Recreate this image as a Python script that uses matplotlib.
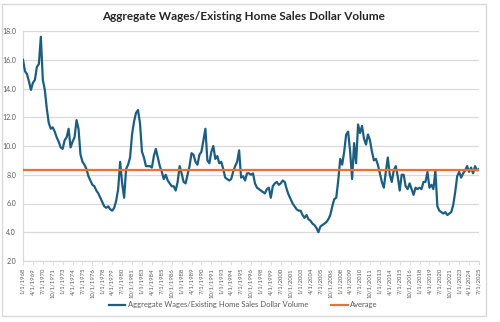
import matplotlib
matplotlib.use("Agg")
import matplotlib.pyplot as plt
from matplotlib.patches import Rectangle
from matplotlib.lines import Line2D

# Quarterly readings (Jan, Apr, Jul, Oct), Jan 1968 .. Jul 2025
ratio_values = [
    16.0, 15.2, 15.0, 14.5,   # 1968
    13.9, 14.4, 14.6, 15.5,   # 1969
    15.7, 17.6, 14.6, 13.9,   # 1970
    12.6, 11.6, 11.2, 11.3,   # 1971
    11.0, 10.6, 10.3, 9.9,    # 1972
    9.8, 10.4, 10.6, 11.2,    # 1973
    9.9, 10.3, 10.6, 11.8,    # 1974
    11.2, 9.4, 8.9, 8.7,      # 1975
    8.4, 7.9, 7.6, 7.3,       # 1976
    7.2, 6.9, 6.7, 6.4,       # 1977
    6.1, 5.8, 5.7, 5.8,       # 1978
    5.6, 5.5, 5.7, 6.2,       # 1979
    7.0, 8.9, 7.4, 6.4,       # 1980
    8.4, 8.7, 9.2, 10.8,      # 1981
    11.7, 12.3, 12.5, 11.6,   # 1982
    9.6, 9.2, 8.6, 8.6,       # 1983
    8.6, 8.5, 9.3, 9.8,       # 1984
    9.2, 8.6, 8.2, 7.7,       # 1985
    8.0, 7.6, 7.4, 7.2,       # 1986
    7.2, 6.9, 7.5, 8.6,       # 1987
    8.1, 7.5, 7.4, 8.0,       # 1988
    8.6, 9.5, 9.4, 8.9,       # 1989
    8.7, 9.4, 9.6, 10.4,      # 1990
    11.2, 9.0, 8.8, 9.6,      # 1991
    10.0, 9.1, 9.3, 8.8,      # 1992
    8.9, 8.4, 7.8, 7.7,       # 1993
    7.6, 7.7, 8.2, 8.6,       # 1994
    8.9, 9.7, 7.8, 7.9,       # 1995
    7.6, 8.1, 8.1, 8.0,       # 1996
    8.1, 7.4, 7.1, 7.0,       # 1997
    6.9, 6.8, 6.7, 7.0,       # 1998
    7.1, 6.4, 7.2, 7.4,       # 1999
    7.5, 7.3, 7.4, 7.6,       # 2000
    7.5, 7.0, 6.6, 6.3,       # 2001
    6.0, 5.8, 5.6, 5.5,       # 2002
    5.5, 5.2, 5.0, 5.2,       # 2003
    4.9, 4.8, 4.6, 4.5,       # 2004
    4.3, 4.0, 4.4, 4.5,       # 2005
    4.6, 4.7, 4.9, 5.2,       # 2006
    5.8, 6.3, 6.4, 7.6,       # 2007
    9.1, 8.7, 9.6, 10.8,      # 2008
    11.0, 9.6, 7.7, 10.2,     # 2009
    8.8, 11.5, 10.9, 11.4,    # 2010
    10.5, 10.1, 10.8, 10.4,   # 2011
    9.6, 9.0, 9.1, 8.7,       # 2012
    8.1, 7.5, 7.1, 8.2,       # 2013
    9.2, 8.0, 7.5, 8.3,       # 2014
    8.6, 7.9, 6.9, 8.0,       # 2015
    8.0, 7.2, 7.0, 7.4,       # 2016
    7.0, 6.6, 7.1, 7.0,       # 2017
    7.1, 7.0, 7.5, 7.5,       # 2018
    8.2, 7.1, 7.3, 7.0,       # 2019
    8.3, 5.8, 5.5, 5.4,       # 2020
    5.3, 5.4, 5.2, 5.3,       # 2021
    5.4, 5.9, 6.8, 7.9,       # 2022
    8.2, 7.8, 8.1, 8.3,       # 2023
    8.6, 8.2, 8.5, 8.1,       # 2024
    8.6, 8.3, 8.4,            # 2025
]
average_value = 8.33

tick_labels = [
    "1/1/1968", "4/1/1969", "7/1/1970", "10/1/1971", "1/1/1973", "4/1/1974",
    "7/1/1975", "10/1/1976", "1/1/1978", "4/1/1979", "7/1/1980", "10/1/1981",
    "1/1/1983", "4/1/1984", "7/1/1985", "10/1/1986", "1/1/1988", "4/1/1989",
    "7/1/1990", "10/1/1991", "1/1/1993", "4/1/1994", "7/1/1995", "10/1/1996",
    "1/1/1998", "4/1/1999", "7/1/2000", "10/1/2001", "1/1/2003", "4/1/2004",
    "7/1/2005", "10/1/2006", "1/1/2008", "4/1/2009", "7/1/2010", "10/1/2011",
    "1/1/2013", "4/1/2014", "7/1/2015", "10/1/2016", "1/1/2018", "4/1/2019",
    "7/1/2020", "10/1/2021", "1/1/2023", "4/1/2024", "7/1/2025",
]
y_ticks = [2, 4, 6, 8, 10, 12, 14, 16, 18]

series_name = "Aggregate Wages/Existing Home Sales Dollar Volume"
avg_name = "Average"
title = "Aggregate Wages/Existing Home Sales Dollar Volume"

LINE_C = "#1b5e83"
AVG_C = "#e97132"
GRID_C = "#d9d9d9"
TXT_C = "#595959"

plt.rcParams["font.family"] = ["Lato", "DejaVu Sans"]

W, H = 500, 322
fig = plt.figure(figsize=(W / 100, H / 100), dpi=100)
fig.patch.set_facecolor("white")

# chart area border
fig.add_artist(Rectangle((2 / W, 1 - 316 / H), 484 / W, 312 / H,
                         transform=fig.transFigure, fill=False,
                         edgecolor=GRID_C, linewidth=1.0))

ax = fig.add_axes([23 / W, 1 - 261 / H, 456 / W, 230 / H])

months = [3 * i for i in range(len(ratio_values))]
n_months = months[-1]
ax.plot(months, ratio_values, color=LINE_C, linewidth=1.6, solid_joinstyle="round", zorder=3)
ax.plot([0, n_months], [average_value, average_value], color=AVG_C, linewidth=1.6, zorder=4)

ax.set_xlim(0, n_months)
ax.set_ylim(2, 18)
ax.set_yticks(y_ticks)
ax.set_yticklabels([f"{v:.1f}" for v in y_ticks])
ax.yaxis.grid(True, color=GRID_C, linewidth=0.9)
ax.set_axisbelow(True)

tick_pos = [15 * i for i in range(len(tick_labels))]
ax.set_xticks(tick_pos)
ax.set_xticklabels(tick_labels, rotation=90)

for s in ["top", "right"]:
    ax.spines[s].set_visible(False)
ax.spines["left"].set_color(GRID_C)
ax.spines["bottom"].set_color(GRID_C)
ax.spines["left"].set_linewidth(0.9)
ax.spines["bottom"].set_linewidth(0.9)

ax.tick_params(axis="y", length=0, labelsize=5, labelcolor=TXT_C, pad=5)
ax.tick_params(axis="x", length=3, width=0.6, color=GRID_C, labelsize=4.3,
               labelcolor=TXT_C, pad=2)

fig.text(243 / W, 1 - 16 / H, title, ha="center", va="center",
         fontsize=8.5, fontweight="bold", color="#262626")

handles = [Line2D([], [], color=LINE_C, linewidth=1.6),
           Line2D([], [], color=AVG_C, linewidth=1.6)]
fig.legend(handles, [series_name, avg_name], loc="center",
           bbox_to_anchor=(243 / W, 1 - 305 / H), ncol=2, frameon=False,
           fontsize=5.5, labelcolor=TXT_C, handlelength=2.2, handletextpad=0.3,
           columnspacing=3.0)

fig.savefig("out.png", dpi=100, facecolor="white")
